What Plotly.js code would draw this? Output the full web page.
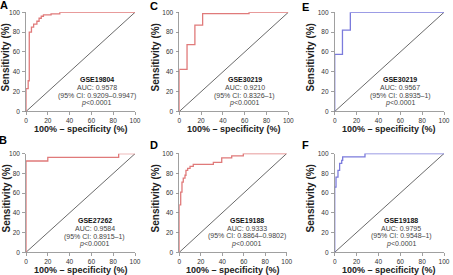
<!DOCTYPE html>
<html><head><meta charset="utf-8">
<script src="https://cdn.plot.ly/plotly-3.0.1.min.js"></script>
<style>html,body{margin:0;padding:0;background:#fff}#c{width:453px;height:275px}</style>
</head><body><div id="c"></div>
<script>
// ROC data (100% - specificity, sensitivity)
const fprA = [0, 0, 2, 3, 5, 7, 10, 12, 14, 16, 23, 31, 100];
const tprA = [0, 23, 31, 80, 85, 88, 91, 94, 96, 97.5, 98.5, 100, 100];
const fprB = [0, 0, 20, 85, 100];
const tprB = [0, 92.6, 96.3, 100, 100];
const fprC = [0, 0, 7.1, 14.3, 21.4, 64, 100];
const tprC = [0, 42.5, 67.5, 87, 98.7, 100, 100];
const fprD = [0, 0, 1.3, 2.5, 3.7, 5.3, 6.2, 7.8, 10, 13, 31.7, 39.5, 48.8, 59.6, 100];
const tprD = [0, 48, 61, 71, 75, 78, 83, 85, 87, 89, 91, 95.5, 97.5, 100, 100];
const fprE = [0, 0, 7.1, 14.3, 100];
const tprE = [0, 57.5, 82, 100, 100];
const fprF = [0, 0, 1.2, 3, 4.5, 6.4, 7.3, 27.7, 100];
const tprF = [0, 66, 76, 83, 90, 93, 96.5, 100, 100];
const diagX = [0, 100];
const diagY = [0, 100];
const letters = ["A", "B", "C", "D", "E", "F"];
const datasets = ["GSE19804", "GSE27262", "GSE30219", "GSE19188", "GSE30219", "GSE19188"];
const aucs = ["0.9578", "0.9584", "0.9210", "0.9333", "0.9567", "0.9795"];
const cis = ["0.9209–0.9947", "0.8915–1", "0.8326–1", "0.8864–0.9802", "0.8935–1", "0.9548–1"];
const pvals = ["0.0001", "0.0001", "0.0001", "0.0001", "0.0001", "0.0001"];
const tickVals = [0, 20, 40, 60, 80, 100];
const xTitle = "100% – specificity (%)";
const yTitle = "Sensitivity (%)";

const W = 453, H = 275;
const RED = "#e07a7a", BLUE = "#7b7bdc";
const series = [[fprA, tprA, RED], [fprB, tprB, RED], [fprC, tprC, RED], [fprD, tprD, RED], [fprE, tprE, BLUE], [fprF, tprF, BLUE]];
// pixel layout of each panel: [left, right, top(y=100), bottom(y=0)]
const boxes = [
  [26, 135, 12.3, 111.5], [26, 135, 153.7, 252.3],
  [179.3, 288.3, 12.3, 111.5], [179.3, 286.7, 153.5, 252.3],
  [334.7, 444, 12.3, 111.5], [334.7, 444, 153.5, 252.3]
];
const letterPos = [[3.5, 5], [2.5, 140], [153.5, 6], [153.5, 145], [305, 7], [305, 145]];
const ytPos = [5.5, 5.5, 155.5, 155.5, 310.5, 310.5];
const annX = [65, 63, 60, 63, 60, 61];

const FONT = "Liberation Sans, Arial, sans-serif";
const traces = [];
const layout = {
  width: W, height: H, margin: {l: 0, r: 0, t: 0, b: 0},
  paper_bgcolor: "#fff", plot_bgcolor: "#fff", showlegend: false,
  font: {family: FONT, color: "#333"},
  annotations: []
};
boxes.forEach((b, i) => {
  const n = i + 1, sfx = n === 1 ? "" : String(n);
  const xa = "x" + sfx, ya = "y" + sfx;
  traces.push({x: diagX, y: diagY, xaxis: xa, yaxis: ya, mode: "lines", cliponaxis: false,
    line: {color: "#444", width: 0.8}, hoverinfo: "skip"});
  traces.push({x: series[i][0], y: series[i][1], xaxis: xa, yaxis: ya, mode: "lines", cliponaxis: false,
    line: {color: series[i][2], width: 1.3, shape: "hv"}, hoverinfo: "skip"});
  const ax = {
    range: [0, 100], tickvals: tickVals, ticks: "outside", ticklen: 3, tickwidth: 0.8,
    tickcolor: "#888", showline: true, linecolor: "#888", linewidth: 0.8,
    showgrid: false, zeroline: false, tickfont: {size: 6.5, color: "#333", family: FONT}, fixedrange: true
  };
  layout["xaxis" + sfx] = Object.assign({}, ax, {domain: [b[0] / W, b[1] / W], anchor: ya});
  layout["yaxis" + sfx] = Object.assign({}, ax, {domain: [1 - b[3] / H, 1 - b[2] / H], anchor: xa, ticklabelstandoff: 1});
  // text block
  const lines = ["<b>" + datasets[i] + "</b>", "AUC: " + aucs[i], "(95% CI: " + cis[i] + ")", "<i>p</i>&lt;" + pvals[i]];
  const ys = [32.5, 24.5, 16, 8.3];
  lines.forEach((t, k) => layout.annotations.push({
    xref: xa, yref: ya, x: annX[i], y: ys[k], text: t, showarrow: false,
    font: {size: 7, color: k === 0 ? "#111" : "#444", family: FONT}, xanchor: "center", yanchor: "middle"
  }));
  // axis titles
  layout.annotations.push({xref: "paper", yref: "paper", x: (b[0] + b[1]) / 2 / W, y: 1 - (b[3] + 17.5) / H,
    text: "<b>" + xTitle + "</b>", showarrow: false, font: {size: 9, color: "#222", family: FONT},
    xanchor: "center", yanchor: "middle"});
  layout.annotations.push({xref: "paper", yref: "paper", x: ytPos[i] / W, y: 1 - ((b[2] + b[3]) / 2 - 4) / H,
    text: "<b>" + yTitle + "</b>", showarrow: false, textangle: -90, font: {size: 10, color: "#222", family: FONT},
    xanchor: "center", yanchor: "middle"});
  // panel letter
  layout.annotations.push({xref: "paper", yref: "paper", x: letterPos[i][0] / W, y: 1 - letterPos[i][1] / H,
    text: "<b>" + letters[i] + "</b>", showarrow: false, font: {size: 11, color: "#000", family: FONT},
    xanchor: "center", yanchor: "middle"});
});
Plotly.newPlot("c", traces, layout, {staticPlot: true, displayModeBar: false});
</script></body></html>
